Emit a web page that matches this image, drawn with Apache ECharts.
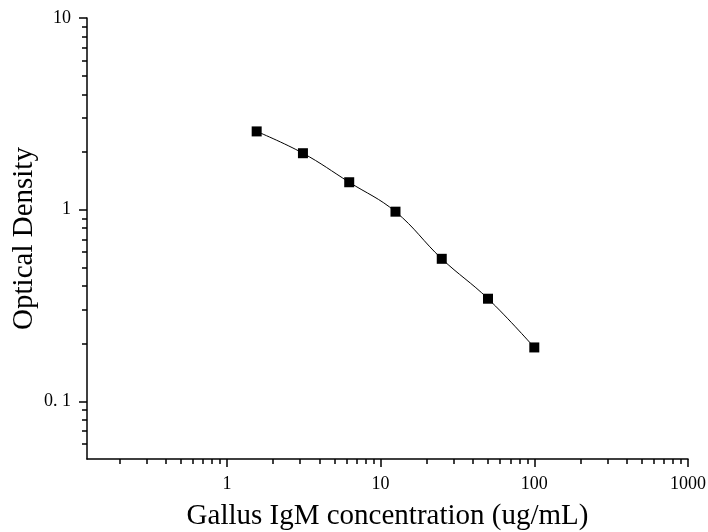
<!DOCTYPE html>
<html><head><meta charset="utf-8">
<script src="https://cdn.jsdelivr.net/npm/echarts@6/dist/echarts.min.js"></script>
<style>html,body{margin:0;padding:0;background:#fff}#c{width:708px;height:532px}</style>
</head><body><div id="c"></div>
<script>
const concentrations = [1.5625, 3.125, 6.25, 12.5, 25, 50, 100];
const odValues = [2.56, 1.97, 1.39, 0.976, 0.554, 0.343, 0.191];
const xMajorTicks = [1, 10, 100, 1000];
const yMajorTicks = [0.1, 1, 10];
const xMinorTicks = [0.2,0.3,0.4,0.5,0.6,0.7,0.8,0.9,2,3,4,5,6,7,8,9,20,30,40,50,60,70,80,90,200,300,400,500,600,700,800,900];
const yMinorTicks = [0.06,0.07,0.08,0.09,0.2,0.3,0.4,0.5,0.6,0.7,0.8,0.9,2,3,4,5,6,7,8,9];
const xLabel = 'Gallus IgM concentration (ug/mL)';
const yLabel = 'Optical Density';

const font = 'Liberation Serif, Times New Roman, serif';
const xMin = 0.123, xMax = 1000, yMin = 0.05, yMax = 10;
const chart = echarts.init(document.getElementById('c'), null, {renderer: 'canvas'});
const fmtY = v => (Math.abs(v - 0.1) < 1e-9 ? '0. 1' : String(+v.toPrecision(6)));
const fmtX = v => String(+v.toPrecision(6));
chart.setOption({
  animation: false,
  backgroundColor: '#fff',
  grid: {left: 87, top: 18, right: 20, bottom: 73, containLabel: false, outerBoundsMode: 'none'},
  xAxis: [{
    type: 'log', logBase: 10, min: xMin, max: xMax,
    name: xLabel, nameLocation: 'middle', nameGap: 43, nameMoveOverlap: false,
    nameTextStyle: {fontFamily: font, fontSize: 29, color: '#000'},
    axisLine: {show: true, lineStyle: {color: '#000', width: 1.5}},
    axisTick: {show: true, length: 8, inside: false, customValues: xMajorTicks, lineStyle: {color: '#000', width: 1.5}},
    axisLabel: {show: true, customValues: xMajorTicks, margin: 16, fontFamily: font, fontSize: 18, color: '#000', formatter: fmtX},
    splitLine: {show: false}, minorTick: {show: false}
  }, {
    type: 'log', logBase: 10, min: xMin, max: xMax, position: 'bottom',
    axisLine: {show: false},
    axisTick: {show: true, length: 5, customValues: xMinorTicks, lineStyle: {color: '#000', width: 1.5}},
    axisLabel: {show: false}, splitLine: {show: false}
  }],
  yAxis: [{
    type: 'log', logBase: 10, min: yMin, max: yMax,
    name: yLabel, nameLocation: 'middle', nameGap: 48, nameMoveOverlap: false,
    nameTextStyle: {fontFamily: font, fontSize: 29, color: '#000'},
    axisLine: {show: true, lineStyle: {color: '#000', width: 1.5}},
    axisTick: {show: true, length: 8, customValues: yMajorTicks, lineStyle: {color: '#000', width: 1.5}},
    axisLabel: {show: true, customValues: yMajorTicks, margin: 16, fontFamily: font, fontSize: 18, color: '#000', formatter: fmtY},
    splitLine: {show: false}, minorTick: {show: false}
  }, {
    type: 'log', logBase: 10, min: yMin, max: yMax, position: 'left',
    axisLine: {show: false},
    axisTick: {show: true, length: 5, customValues: yMinorTicks, lineStyle: {color: '#000', width: 1.5}},
    axisLabel: {show: false}, splitLine: {show: false}
  }],
  series: [{
    type: 'line',
    xAxisIndex: 0, yAxisIndex: 0,
    data: concentrations.map((c, i) => [c, odValues[i]]),
    smooth: 0.4,
    symbol: 'rect', symbolSize: 10,
    itemStyle: {color: '#000'},
    lineStyle: {color: '#000', width: 1}
  }]
});
</script></body></html>
